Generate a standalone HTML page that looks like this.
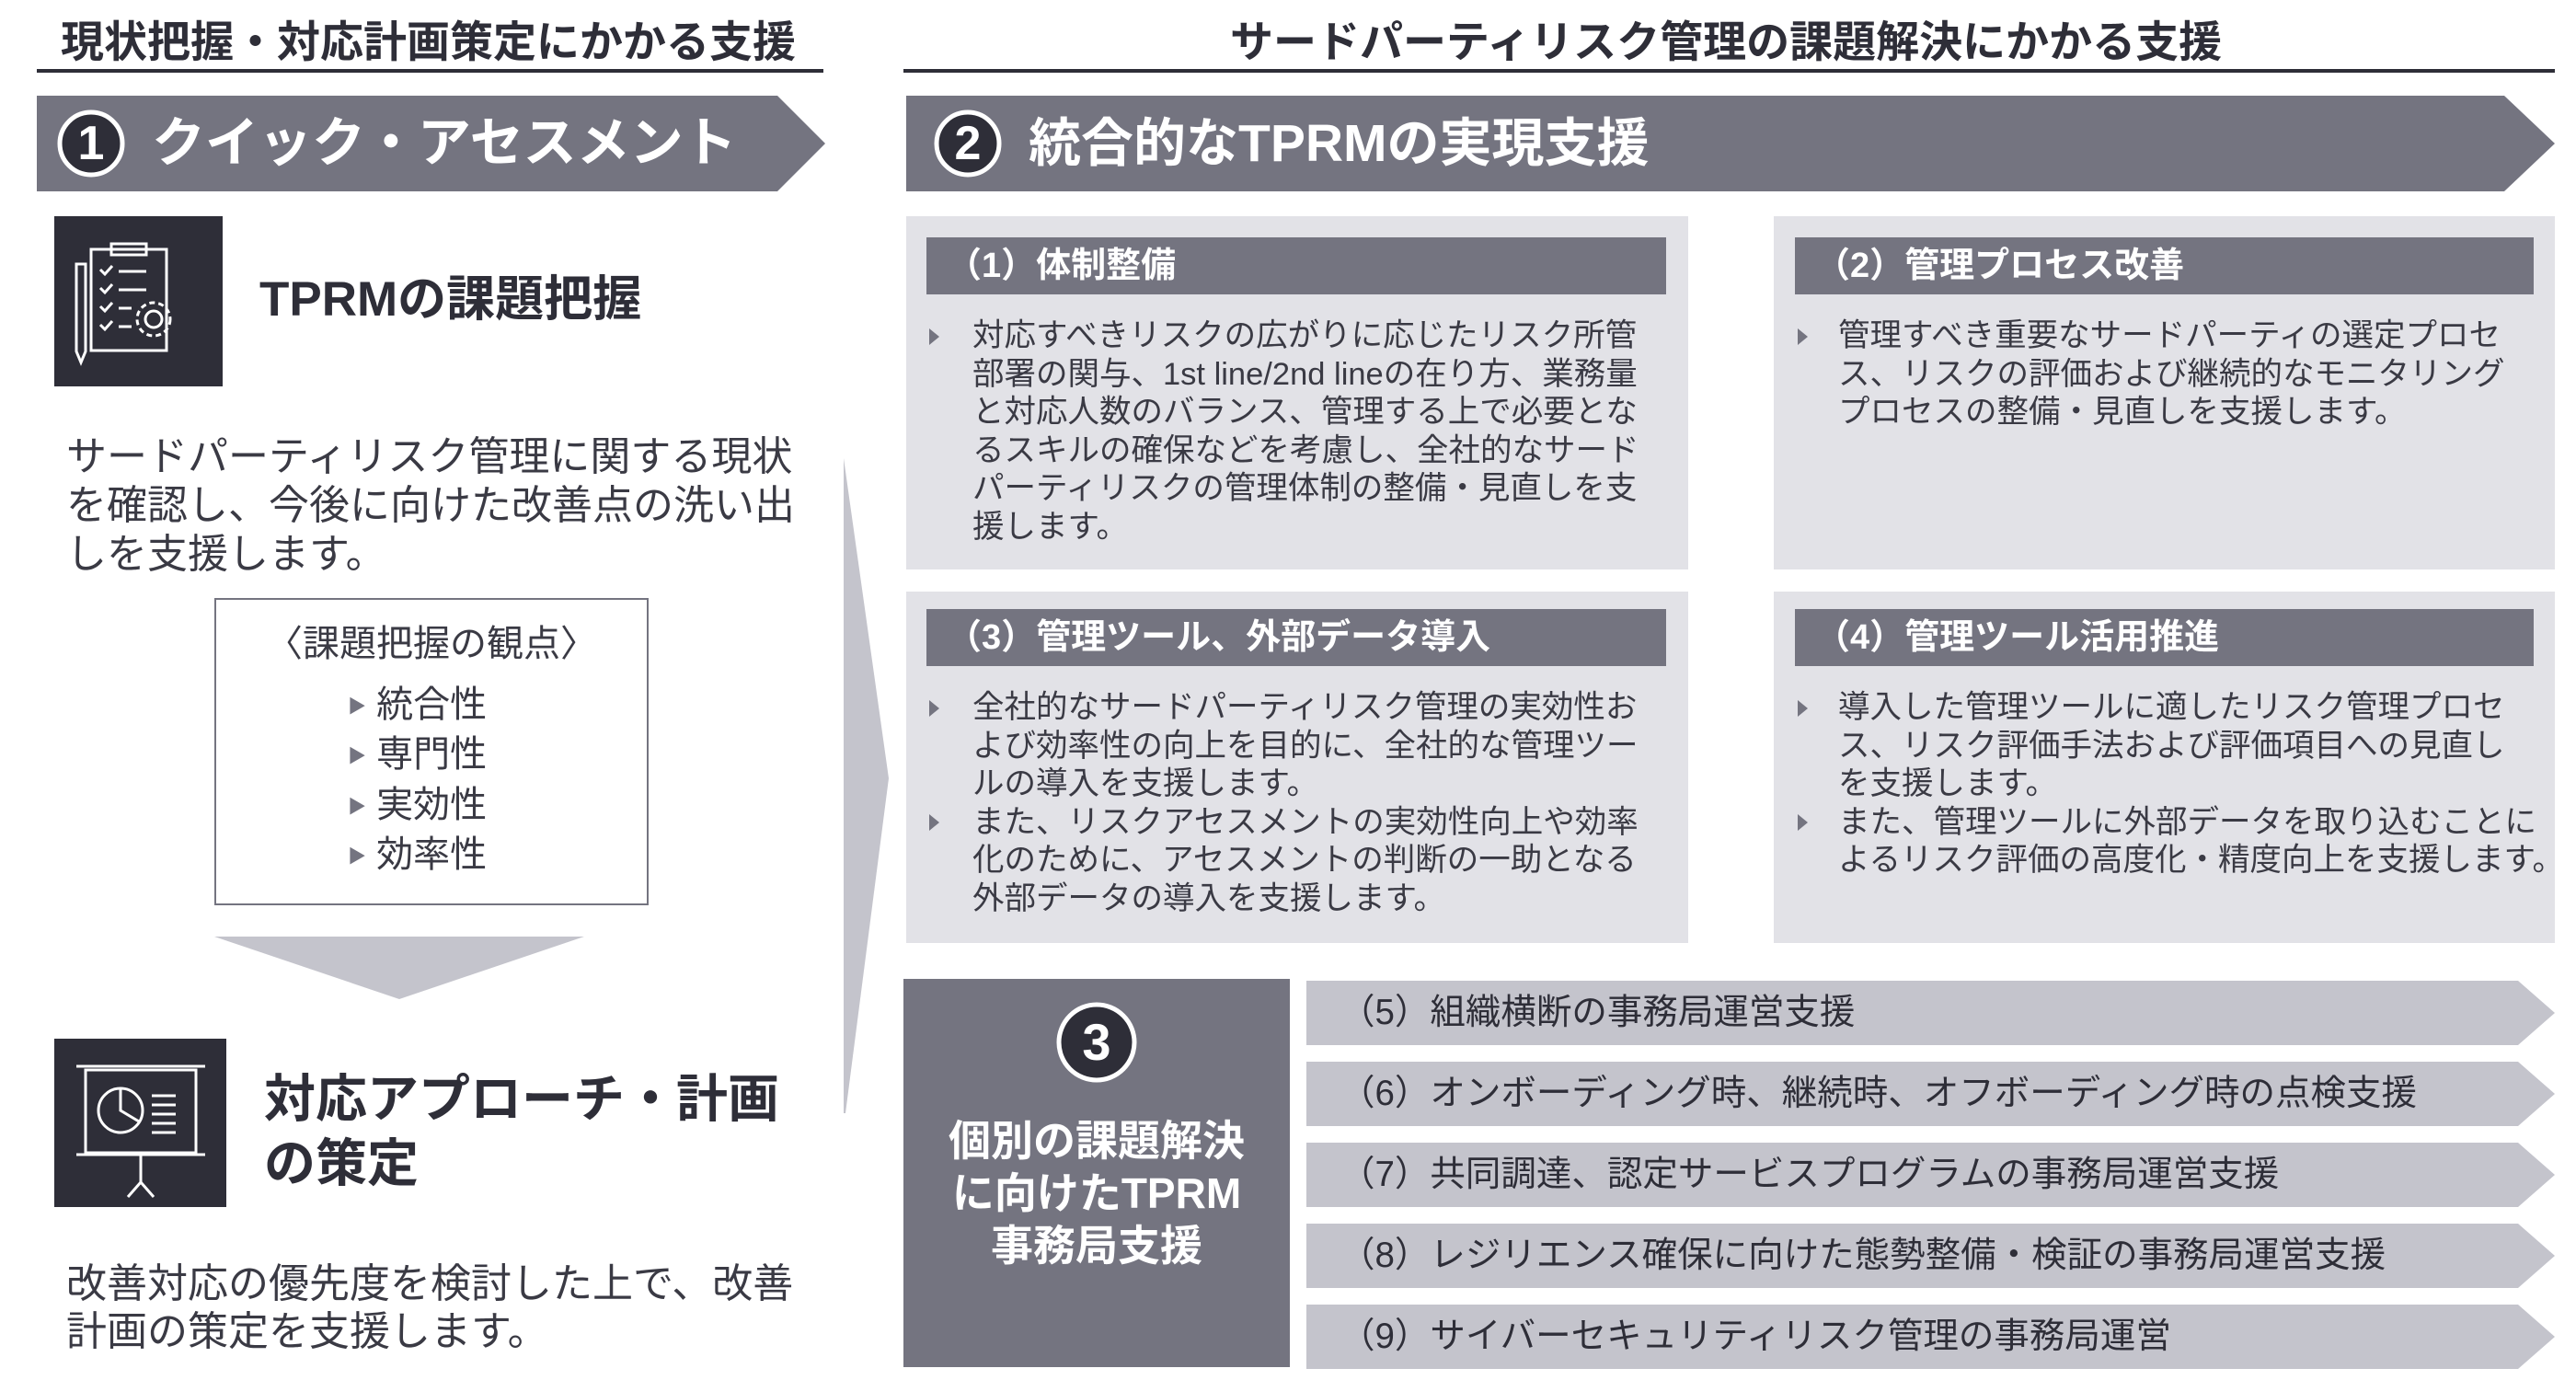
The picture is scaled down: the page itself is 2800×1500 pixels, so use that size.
<!DOCTYPE html>
<html><head><meta charset="utf-8"><style>
*{margin:0;padding:0;box-sizing:border-box}
body{width:2800px;height:1500px;background:#fff;position:relative;overflow:hidden;font-family:"Liberation Sans","Noto Sans CJK JP",sans-serif;color:#2e2e38}
.a{position:absolute;white-space:nowrap}
.b{font-weight:bold}
.panel{position:absolute;background:#e2e2e7}
.hbar{position:absolute;background:#747480;color:#fff;font-weight:bold;font-size:38px;line-height:62px;padding-left:22px;white-space:nowrap}
.body{position:absolute;font-size:34.5px;line-height:41.5px;color:#3a3a44;white-space:nowrap}
.tri{position:absolute;width:0;height:0;border-top:9px solid transparent;border-bottom:9px solid transparent;border-left:11px solid #747480}
.bar{position:absolute;left:1420px;width:1357px;height:70px;background:#c4c4cc;clip-path:polygon(0 0,1317px 0,100% 50%,1317px 100%,0 100%)}
.bar span{position:absolute;left:36px;top:0;line-height:70px;font-size:38.5px;color:#2e2e38;white-space:nowrap}
</style></head><body>

<div class="a b" style="left:66px;top:18px;font-size:47px;line-height:56px">現状把握・対応計画策定にかかる支援</div>
<div class="a" style="left:40px;top:75px;width:855px;height:4px;background:#2e2e38"></div>
<div class="a b" style="left:1337px;top:18px;font-size:47px;line-height:56px">サードパーティリスク管理の課題解決にかかる支援</div>
<div class="a" style="left:982px;top:75px;width:1795px;height:4px;background:#2e2e38"></div>

<svg class="a" style="left:0;top:0" width="2800" height="1500">
<polygon points="40,104 845,104 897,156 845,208 40,208" fill="#747480"/>
<polygon points="985,104 2722,104 2777,156 2722,208 985,208" fill="#747480"/>
<circle cx="99" cy="156" r="34" fill="#2e2e38" stroke="#fff" stroke-width="5"/>
<circle cx="1052" cy="156" r="34" fill="#2e2e38" stroke="#fff" stroke-width="5"/>
<polygon points="917,498 966,846 919,1210 917,1210" fill="#c4c4cc"/>
<polygon points="233,1018 635,1018 434,1086" fill="#c4c4cc"/>
</svg>
<div class="a b" style="left:79px;top:126px;width:40px;text-align:center;font-size:52px;line-height:60px;color:#fff">1</div>
<div class="a b" style="left:1032px;top:126px;width:40px;text-align:center;font-size:52px;line-height:60px;color:#fff">2</div>
<div class="a b" style="left:165px;top:120px;font-size:58px;line-height:72px;color:#fff">クイック・アセスメント</div>
<div class="a b" style="left:1118px;top:120px;font-size:57px;line-height:72px;color:#fff">統合的なTPRMの実現支援</div>

<div class="a" style="left:59px;top:235px;width:183px;height:185px;background:#2e2e38"></div>
<svg class="a" style="left:59px;top:235px" width="183" height="185" fill="none" stroke="#fff" stroke-width="3">
<rect x="40" y="36" width="82" height="110"/><rect x="62" y="30" width="38" height="12"/>
<path d="M50 58l5 5 8-9M50 78l5 5 8-9M50 98l5 5 8-9M50 118l5 5 8-9M70 60h30M70 80h30M70 100h14M70 120h14"/>
<path d="M24 52h10v95l-5 12-5-12z"/>
<circle cx="108" cy="112" r="9"/><circle cx="108" cy="112" r="18" stroke-dasharray="6 4"/>
</svg>
<div class="a b" style="left:282px;top:293px;font-size:53px;line-height:66px">TPRMの課題把握</div>
<div class="a" style="left:72px;top:470px;font-size:44px;line-height:53px;color:#3a3a44">サードパーティリスク管理に関する現状<br>を確認し、今後に向けた改善点の洗い出<br>しを支援します。</div>

<div class="a" style="left:233px;top:650px;width:472px;height:334px;border:2px solid #747480"></div>
<div class="a" style="left:233px;top:675px;width:472px;text-align:center;font-size:40px;line-height:50px;color:#3a3a44">〈課題把握の観点〉</div>
<div class="a" style="left:378px;top:740px;font-size:40px;line-height:52px;color:#3a3a44">
<span style="font-size:20px;color:#747480;vertical-align:middle">▶</span>&nbsp;統合性<br>
<span style="font-size:20px;color:#747480;vertical-align:middle">▶</span>&nbsp;専門性<br>
<span style="font-size:20px;color:#747480;vertical-align:middle">▶</span>&nbsp;実効性<br>
<span style="font-size:20px;color:#747480;vertical-align:middle">▶</span>&nbsp;効率性</div>

<div class="a" style="left:59px;top:1129px;width:187px;height:183px;background:#2e2e38"></div>
<svg class="a" style="left:59px;top:1129px" width="187" height="183" fill="none" stroke="#fff" stroke-width="3">
<path d="M24 30h140M24 126h140"/><rect x="34" y="34" width="120" height="90"/>
<circle cx="72" cy="78" r="24"/><path d="M72 54v24l20 12"/>
<path d="M106 62h26M106 72h26M106 82h26M106 92h26M106 102h26"/>
<path d="M94 126v30M94 156l-14 16M94 156l14 16"/>
</svg>
<div class="a b" style="left:287px;top:1160px;font-size:56px;line-height:70px">対応アプローチ・計画<br>の策定</div>
<div class="a" style="left:72px;top:1370px;font-size:44px;line-height:52px;color:#3a3a44">改善対応の優先度を検討した上で、改善<br>計画の策定を支援します。</div>

<div class="panel" style="left:985px;top:235px;width:850px;height:384px"></div>
<div class="panel" style="left:1928px;top:235px;width:849px;height:384px"></div>
<div class="panel" style="left:985px;top:643px;width:850px;height:382px"></div>
<div class="panel" style="left:1928px;top:643px;width:849px;height:382px"></div>
<div class="hbar" style="left:1007px;top:258px;width:804px">（1）体制整備</div>
<div class="hbar" style="left:1951px;top:258px;width:803px">（2）管理プロセス改善</div>
<div class="hbar" style="left:1007px;top:662px;width:804px">（3）管理ツール、外部データ導入</div>
<div class="hbar" style="left:1951px;top:662px;width:803px">（4）管理ツール活用推進</div>

<div class="tri" style="left:1010px;top:357px"></div>
<div class="body" style="left:1057px;top:345px">対応すべきリスクの広がりに応じたリスク所管<br>部署の関与、1st line/2nd lineの在り方、業務量<br>と対応人数のバランス、管理する上で必要とな<br>るスキルの確保などを考慮し、全社的なサード<br>パーティリスクの管理体制の整備・見直しを支<br>援します。</div>
<div class="tri" style="left:1954px;top:357px"></div>
<div class="body" style="left:1998px;top:345px">管理すべき重要なサードパーティの選定プロセ<br>ス、リスクの評価および継続的なモニタリング<br>プロセスの整備・見直しを支援します。</div>
<div class="tri" style="left:1010px;top:761px"></div>
<div class="tri" style="left:1010px;top:885px"></div>
<div class="body" style="left:1057px;top:749px">全社的なサードパーティリスク管理の実効性お<br>よび効率性の向上を目的に、全社的な管理ツー<br>ルの導入を支援します。<br>また、リスクアセスメントの実効性向上や効率<br>化のために、アセスメントの判断の一助となる<br>外部データの導入を支援します。</div>
<div class="tri" style="left:1954px;top:761px"></div>
<div class="tri" style="left:1954px;top:885px"></div>
<div class="body" style="left:1998px;top:749px">導入した管理ツールに適したリスク管理プロセ<br>ス、リスク評価手法および評価項目への見直し<br>を支援します。<br>また、管理ツールに外部データを取り込むことに<br>よるリスク評価の高度化・精度向上を支援します。</div>

<div class="a" style="left:982px;top:1064px;width:420px;height:422px;background:#747480"></div>
<svg class="a" style="left:0;top:0" width="2800" height="1500"><circle cx="1192" cy="1133" r="41" fill="#2e2e38" stroke="#fff" stroke-width="5"/></svg>
<div class="a b" style="left:1152px;top:1100px;width:80px;text-align:center;font-size:56px;line-height:66px;color:#fff">3</div>
<div class="a b" style="left:982px;top:1212px;width:420px;text-align:center;font-size:46px;line-height:57px;color:#fff">個別の課題解決<br>に向けたTPRM<br>事務局支援</div>

<div class="bar" style="top:1066px"><span>（5）組織横断の事務局運営支援</span></div>
<div class="bar" style="top:1154px"><span>（6）オンボーディング時、継続時、オフボーディング時の点検支援</span></div>
<div class="bar" style="top:1242px"><span>（7）共同調達、認定サービスプログラムの事務局運営支援</span></div>
<div class="bar" style="top:1330px"><span>（8）レジリエンス確保に向けた態勢整備・検証の事務局運営支援</span></div>
<div class="bar" style="top:1418px"><span>（9）サイバーセキュリティリスク管理の事務局運営</span></div>

</body></html>
